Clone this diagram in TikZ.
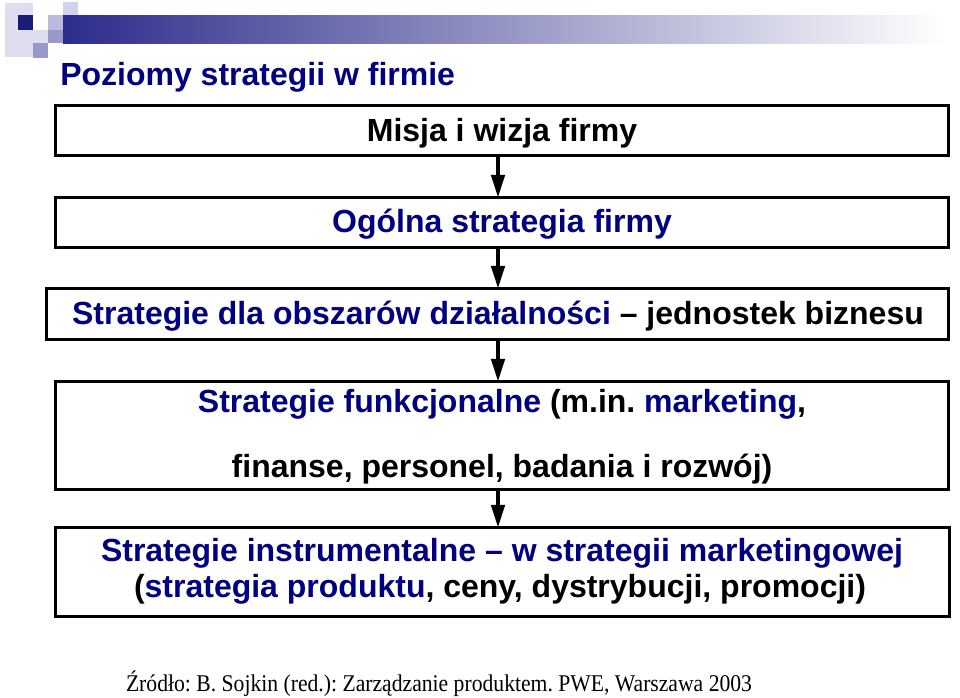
\documentclass[tikz,border=0pt]{standalone}
\usepackage{fontspec}
\setmainfont{Liberation Sans}
\newfontfamily\srcfont{Liberation Serif}
\usepackage{graphicx}
\usetikzlibrary{arrows.meta,fit}
\definecolor{tnavy}{RGB}{0,0,128}
\definecolor{bardark}{RGB}{44,44,140}
\definecolor{logolight}{RGB}{222,222,238}
\definecolor{logolighter}{RGB}{210,210,234}
\definecolor{logodark}{RGB}{28,28,118}
\definecolor{logomid}{RGB}{186,186,222}
\definecolor{logomidd}{RGB}{152,152,202}
\newlength\fitlen
\newcommand\fitw[2]{\settowidth\fitlen{#2}\scalebox{\fpeval{(#1)/(\fitlen)}}[1]{#2}}
\frenchspacing
\begin{document}
\begin{tikzpicture}[x=0.75pt,y=-0.75pt,
  box/.style={draw=black,line width=2.3pt,inner sep=0pt,outer sep=0pt,fill=white},
  txt/.style={anchor=base,inner sep=0pt,font=\fontsize{24}{28}\selectfont\bfseries},
  arr/.style={line width=2.8pt,-{Triangle[length=17pt,width=10pt]}}]
\useasboundingbox (0,0) rectangle (960,697);
% header decoration
\shade[left color=bardark,right color=white] (63,15) rectangle (945,43);
\fill[logolight] (5,3) rectangle (33,57);
\fill[logodark] (18,15) rectangle (33,30);
\fill[logomid] (48,15) rectangle (63,30);
\fill[logolighter] (63,2) rectangle (78,15);
\fill[logolight] (33,30) rectangle (48,43);
\fill[logomidd] (48,30) rectangle (63,43);
\fill[logomidd] (33,43) rectangle (48,58);
% title
\node[txt,anchor=base west,text=tnavy] (title) at (60,85) {Poziomy strategii w firmie};
% boxes
\node[box,fit={(55.5,105.5)(948.5,155.5)}] (b1) {};
\node[box,fit={(55.5,197.5)(948.5,247.5)}] (b2) {};
\node[box,fit={(46.5,288.5)(948.5,339.5)}] (b3) {};
\node[box,fit={(55.5,381.5)(948.5,489.5)}] (b4) {};
\node[box,fit={(55.5,527.5)(949.5,616.5)}] (b5) {};
% texts
\node[txt] (t1) at (502,141) {Misja i wizja firmy};
\node[txt,text=tnavy] (t2) at (502,232) {Ogólna strategia firmy};
\node[txt] (t3) at (498,324) {\textcolor{tnavy}{Strategie dla obszarów działalności} – jednostek biznesu};
\node[txt] (t4a) at (502,412) {\textcolor{tnavy}{Strategie funkcjonalne} (m.in. \textcolor{tnavy}{marketing},};
\node[txt] (t4b) at (502,477) {finanse, personel, badania i rozwój)};
\node[txt,text=tnavy] (t5a) at (502,561) {Strategie instrumentalne – w strategii marketingowej};
\node[txt] (t5b) at (500,597) {(\textcolor{tnavy}{strategia produktu}, ceny, dystrybucji, promocji)};
% source
\node[anchor=base,inner sep=0pt,font=\srcfont\fontsize{18}{20}\selectfont] (src) at (439,691)
  {\fitw{626*0.75pt}{Źródło: B. Sojkin (red.): Zarządzanie produktem. PWE, Warszawa 2003}};
% arrows
\coordinate (ax) at (498,0);
\draw[arr] (b1.south -| ax) -- (b2.north -| ax);
\draw[arr] (b2.south -| ax) -- (b3.north -| ax);
\draw[arr] (b3.south -| ax) -- (b4.north -| ax);
\draw[arr] (b4.south -| ax) -- (b5.north -| ax);
\end{tikzpicture}
\end{document}
